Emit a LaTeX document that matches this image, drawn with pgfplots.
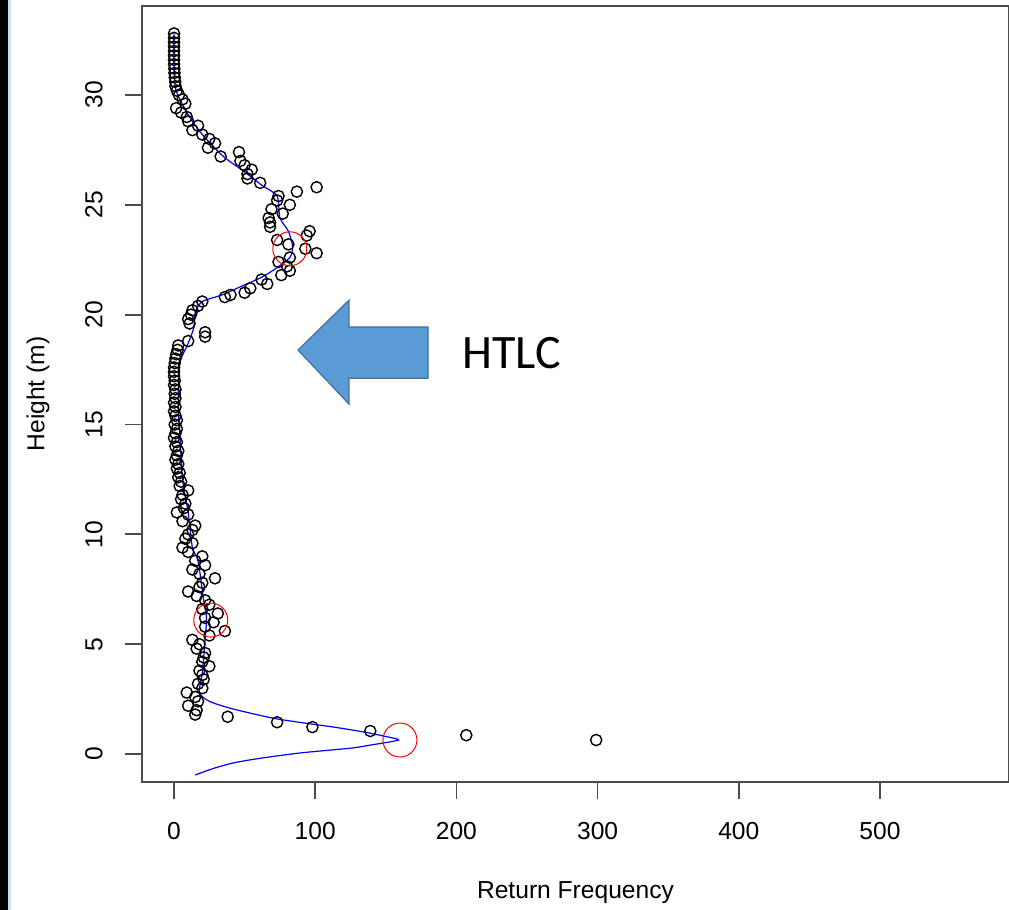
\documentclass[border=0pt]{standalone}
\usepackage{pgfplots}
\pgfplotsset{compat=1.18}
\usepackage{fontspec}
\setmainfont{Liberation Sans}
\newfontfamily\calfont{Carlito}

\definecolor{arrowfill}{HTML}{5B9BD5}
\definecolor{arrowedge}{HTML}{41719C}
\definecolor{sidebar}{HTML}{C9DDF2}

\begin{document}
\begin{tikzpicture}
\begin{axis}[
    scale only axis,
    width=433.5bp, height=388bp,
    xmin=-22.7, xmax=591.4,
    ymin=-1.27, ymax=34.05,
    xtick={0,100,200,300,400,500},
    ytick={0,5,10,15,20,25,30},
    xtick pos=bottom, ytick pos=left,
    tick align=outside,
    major tick length=8.5bp,
    axis line style={black!70, line width=0.9bp},
    tick style={black!70, line width=0.9bp},
    /pgf/number format/assume math mode=true,
    font=\fontsize{12.3bp}{14bp}\selectfont,
    xticklabel style={anchor=center},
    yticklabel style={anchor=center, rotate=90},
    xticklabel shift=16bp,
    yticklabel shift=15.5bp,
    xlabel={Return Frequency},
    ylabel={Height (m)},
    xlabel style={at={(axis description cs:0.5,-0.143)}, anchor=center},
    ylabel style={at={(axis description cs:-0.12,0.5)}, anchor=center},
    clip=false,
]

% fitted profile
\addplot[blue, line width=0.6bp, smooth, tension=0.4] coordinates {
    (0,32.8) (0,31.5) (0.5,30.6) (2,30.1) (10,29.1) (20,28.2) (35,27.2)
    (50,26.5) (62,25.9) (73,25.4) (75,24.4) (81,23.8) (84,23.1) (82,22.6)
    (72,22.1) (62,21.7) (48,21.3) (34,20.9) (20,20.6) (15,20.1) (14,19.4)
    (10,18.7) (4,17.8) (3,16.5) (3,15.5) (4,14.7) (6,12.5) (10,11.0)
    (13,9.4) (17,8.8) (21,7.0) (23,6.2) (22,5.2) (20,3.7) (18,2.8)
    (25,2.4) (42,2.05) (73,1.6) (113,1.23) (135,1.0) (150,0.8) (159,0.64)
    (140,0.42) (125,0.27) (89,0.05) (60,-0.2) (42,-0.4) (28,-0.65) (15,-0.95)
};

% returns per height bin
\addplot[only marks, mark=o, mark size=2.8bp, mark options={black, line width=0.7bp}] coordinates {
    (0,32.8) (0,32.6) (0,32.4) (0,32.2) (0,32.0) (0,31.8) (0,31.6) (0,31.4)
    (0.2,31.2) (0.3,31.0) (0.5,30.8) (0.8,30.6) (1,30.4) (2,30.2) (3.5,30.0)
    (6,29.8) (8,29.6) (1.5,29.4) (5,29.2) (9,29.0) (10,28.8) (17,28.6)
    (13,28.4) (20,28.2) (25,28.0) (29,27.8) (24,27.6) (46,27.4) (33,27.2)
    (47,27.0) (50,26.8) (55,26.6) (52,26.4) (52,26.2) (61,26.0) (101,25.8)
    (87,25.6) (74,25.4) (73,25.2) (82,25.0) (69,24.8) (77,24.6) (67,24.4)
    (68,24.2) (68,24.0) (96,23.8) (94,23.6) (73,23.4) (81,23.2) (93,23.0)
    (101,22.8) (82,22.6) (74,22.4) (80,22.2) (82,22.0) (76,21.8) (62,21.6)
    (66,21.4) (54,21.2) (50,21.0) (40,20.9) (36,20.8) (20,20.6) (17,20.4)
    (13,20.2) (12,20.0) (10,19.8) (11,19.6) (22,19.2) (22,19.0) (10,18.8)
    (3,18.6) (2.5,18.4) (1.5,18.2)
    (1,18.0) (0.5,17.8) (0,17.6) (0,17.4) (0,17.2) (0.5,17.0) (0,16.8)
    (1,16.6) (0.5,16.4) (1,16.2) (0,16.0) (1,15.8) (0,15.6) (1,15.4)
    (2,15.2) (0.5,15.0) (2,14.8) (1,14.6) (0,14.4) (2,14.2) (1,14.0)
    (3,13.8) (2,13.6) (1,13.4) (3,13.2) (2,13.0) (4,12.8) (3,12.6)
    (5,12.4) (4,12.2) (10,12.0) (6,11.8) (5,11.6) (8,11.4) (7,11.2)
    (2,11.0) (10,10.9)
    (6,10.6) (15,10.4) (13,10.2) (10,10.0) (8,9.8) (13,9.6) (6,9.4)
    (10,9.2) (20,9.0) (15,8.8) (22,8.6) (13,8.4) (18,8.2) (29,8.0)
    (20,7.8) (18,7.6) (10,7.4) (16,7.2) (22,7.0) (25,6.8) (20,6.6)
    (31,6.4) (22,6.2) (28,6.0) (22,5.8) (36,5.6) (25,5.4) (13,5.2)
    (18,5.0) (16,4.8) (22,4.6) (21,4.4) (20,4.2) (25,4.0) (18,3.8)
    (20,3.6) (21,3.4) (17,3.2) (20,3.0) (9,2.8) (15,2.6) (17,2.4)
    (10,2.2) (16,2.0) (15,1.8) (38,1.7) (73,1.45) (98,1.23) (139,1.05)
    (207,0.86) (299,0.64)
};

% detected layer peaks
\addplot[only marks, mark=o, mark size=8.5bp, mark options={red, line width=0.5bp}] coordinates {
    (82,23.0) (26,6.1) (160,0.64)
};

% annotation
\draw[fill=arrowfill, draw=arrowedge, line width=0.6bp]
    (axis cs:87.8,18.39) -- (axis cs:123.9,20.66) -- (axis cs:123.9,19.44)
    -- (axis cs:179.9,19.44) -- (axis cs:179.9,17.11) -- (axis cs:123.9,17.11)
    -- (axis cs:123.9,15.93) -- cycle;
\node[anchor=west, inner sep=0pt, font=\calfont\fontsize{24bp}{29bp}\selectfont]
    at (axis cs:204,18.25) {HTLC};
\end{axis}

\fill[black] (-71bp,-64bp) rectangle (-67bp,391bp);
\fill[sidebar] (-67bp,-64bp) rectangle (-65.5bp,391bp);
\pgfresetboundingbox
\useasboundingbox (-71bp,-64bp) rectangle (433.5bp,391bp);
\end{tikzpicture}
\end{document}
